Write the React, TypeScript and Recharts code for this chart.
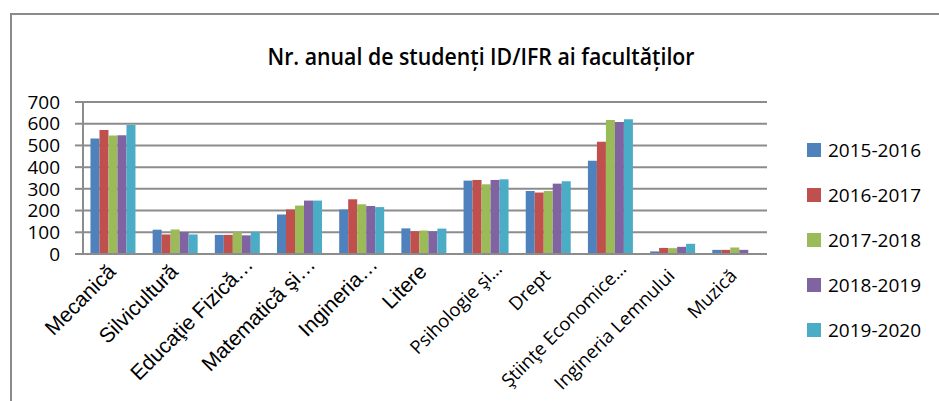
import React from "react";
import { BarChart, Bar, XAxis, YAxis, CartesianGrid, Legend } from "recharts";

const categories = [
  "Mecanică",
  "Silvicultură",
  "Educaţie Fizică…",
  "Matematică şi…",
  "Ingineria…",
  "Litere",
  "Psihologie şi…",
  "Drept",
  "Ştiinţe Economice…",
  "Ingineria Lemnului",
  "Muzică",
];

const seriesNames = ["2015-2016", "2016-2017", "2017-2018", "2018-2019", "2019-2020"];
const seriesColors = ["#4F81BD", "#C0504D", "#9BBB59", "#8064A2", "#4BACC6"];

const v2015 = [532, 112, 88, 182, 205, 118, 338, 290, 429, 12, 19];
const v2016 = [571, 90, 88, 205, 252, 105, 341, 283, 517, 28, 19];
const v2017 = [546, 113, 101, 223, 229, 108, 321, 290, 617, 27, 30];
const v2018 = [547, 101, 86, 246, 221, 105, 341, 324, 608, 33, 19];
const v2019 = [594, 90, 101, 246, 216, 117, 344, 335, 621, 47, null];

const yTicks = [0, 100, 200, 300, 400, 500, 600, 700];

// labels drawn in the second (humanist) font in the reference
const humanistLabels = new Set(["Psihologie şi…", "Drept", "Ştiinţe Economice…", "Ingineria Lemnului", "Muzică"]);

const seriesValues = [v2015, v2016, v2017, v2018, v2019];

const data = categories.map((c, i) => {
  const row: Record<string, any> = { name: c };
  seriesNames.forEach((s, k) => {
    row[s] = seriesValues[k][i];
  });
  return row;
});

const XTick = (props: any) => {
  const { x, payload } = props;
  const label: string = payload.value;
  const humanist = humanistLabels.has(label);
  const truncated = label.endsWith("…");
  let dx = humanist ? 2 : 3;
  let y = humanist ? 277 : 273;
  if (truncated) {
    dx = 16;
    y = humanist ? 270 : 266;
  }
  return (
    <g transform={`translate(${x + dx},${y})`}>
      <text
        transform="rotate(-45)"
        textAnchor="end"
        fontFamily={humanist ? "'Open Sans', sans-serif" : "'Liberation Sans', Arial, sans-serif"}
        fontSize={humanist ? 18.5 : 21}
        fill="#000"
      >
        {label}
      </text>
    </g>
  );
};

const LegendContent = () => (
  <div style={{ position: "relative" }}>
    {seriesNames.map((s, i) => (
      <div
        key={s}
        style={{
          position: "absolute",
          left: 0,
          top: i * 45,
          height: 20,
          display: "flex",
          alignItems: "center",
          whiteSpace: "nowrap",
        }}
      >
        <span
          style={{
            display: "inline-block",
            width: 14,
            height: 14,
            background: seriesColors[i],
            marginRight: 7,
          }}
        />
        <span style={{ fontFamily: "'Open Sans', sans-serif", fontSize: 19, color: "#000" }}>{s}</span>
      </div>
    ))}
  </div>
);

export default function App() {
  return (
    <div style={{ position: "absolute", left: 0, top: 0, width: 939, height: 401, background: "#fff" }}>
      <div
        style={{
          position: "absolute",
          left: 10,
          top: 13,
          width: 929,
          height: 388,
          borderTop: "2px solid #8a8a8a",
          borderLeft: "2px solid #8a8a8a",
          boxSizing: "border-box",
        }}
      />
      <div style={{ position: "absolute", left: 0, top: 0 }}>
        <BarChart
          width={939}
          height={401}
          data={data}
          margin={{ top: 102, right: 42, bottom: 0, left: 0 }}
          barCategoryGap="12%"
          barGap={0}
        >
          <text
            x={481}
            y={65}
            textAnchor="middle"
            fontFamily="'Open Sans', sans-serif"
            fontWeight={600}
            fontSize={24}
            textLength={427}
            lengthAdjust="spacingAndGlyphs"
            fill="#000"
          >
            Nr. anual de studenți ID/IFR ai facultăților
          </text>
          <CartesianGrid vertical={false} stroke="#8c8c8c" strokeWidth={2} />
          <XAxis
            dataKey="name"
            interval={0}
            height={147}
            tickLine={false}
            axisLine={{ stroke: "#8c8c8c", strokeWidth: 2 }}
            tick={<XTick />}
          />
          <YAxis
            width={83}
            domain={[0, 700]}
            ticks={yTicks}
            interval={0}
            tickSize={8}
            tickMargin={15}
            axisLine={{ stroke: "#8c8c8c", strokeWidth: 2 }}
            tickLine={{ stroke: "#8c8c8c", strokeWidth: 2 }}
            tick={{ fill: "#000", fontSize: 19, fontFamily: "'Open Sans', sans-serif" }}
          />
          <Legend
            layout="horizontal"
            verticalAlign="middle"
            align="right"
            content={<LegendContent />}
            wrapperStyle={{ position: "absolute", left: 807, top: 140, width: 130, height: 220 }}
          />
          {seriesNames.map((s, i) => (
            <Bar key={s} dataKey={s} fill={seriesColors[i]} isAnimationActive={false} />
          ))}
        </BarChart>
      </div>
    </div>
  );
}
